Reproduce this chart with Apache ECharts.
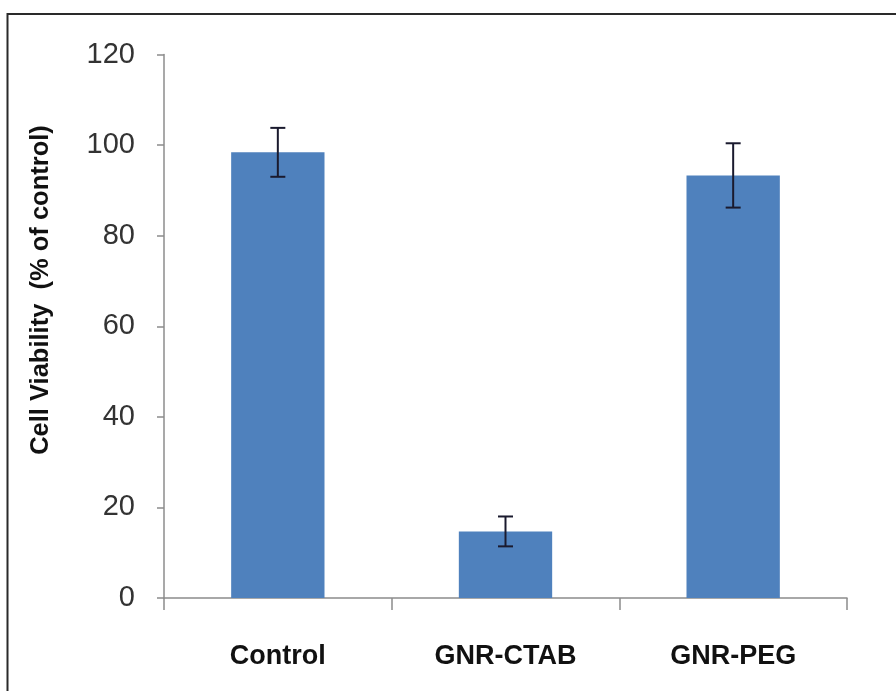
<!DOCTYPE html>
<html>
<head>
<meta charset="utf-8">
<style>html,body{margin:0;padding:0;background:#fff;}#chart{width:896px;height:691px;}</style>
<script src="https://cdn.jsdelivr.net/npm/echarts@6/dist/echarts.min.js"></script>
</head>
<body>
<div id="chart"></div>
<script>
const categories = ["Control", "GNR-CTAB", "GNR-PEG"];
const viability = [98.4, 14.7, 93.3];
const errors = [5.4, 3.3, 7.1];
const yTicks = [0, 20, 40, 60, 80, 100, 120];

const chart = echarts.init(document.getElementById('chart'));
const errData = categories.map((c, i) => [i, viability[i] - errors[i], viability[i] + errors[i]]);

chart.setOption({
  animation: false,
  backgroundColor: '#fff',
  grid: { left: 164, top: 54.5, right: 49, bottom: 93 },
  xAxis: {
    type: 'category',
    data: categories,
    axisLine: { lineStyle: { color: '#8c8c8c', width: 1.5 } },
    axisTick: { show: true, length: 12, lineStyle: { color: '#8c8c8c', width: 1.5 } },
    axisLabel: { margin: 45, color: '#111', fontSize: 27, fontWeight: 'bold', fontFamily: 'Liberation Sans, Arial, sans-serif' }
  },
  yAxis: {
    type: 'value',
    min: yTicks[0], max: yTicks[yTicks.length - 1], interval: 20,
    axisLine: { show: true, lineStyle: { color: '#8c8c8c', width: 1.5 } },
    axisTick: { show: true, length: 7, lineStyle: { color: '#8c8c8c', width: 1.5 } },
    splitLine: { show: false },
    axisLabel: { margin: 29, color: '#333', fontSize: 29, fontFamily: 'Liberation Sans, Arial, sans-serif' }
  },
  series: [
    {
      type: 'bar',
      data: viability,
      barWidth: '41%',
      itemStyle: { color: '#4f81bd' }
    },
    {
      type: 'custom',
      data: errData,
      z: 10,
      renderItem: function (params, api) {
        const x = api.value(0);
        const lo = api.coord([x, api.value(1)]);
        const hi = api.coord([x, api.value(2)]);
        const hw = 7.5;
        const st = { stroke: '#1a1a2e', lineWidth: 2 };
        return {
          type: 'group',
          children: [
            { type: 'line', shape: { x1: lo[0], y1: lo[1], x2: hi[0], y2: hi[1] }, style: st },
            { type: 'line', shape: { x1: lo[0] - hw, y1: lo[1], x2: lo[0] + hw, y2: lo[1] }, style: st },
            { type: 'line', shape: { x1: hi[0] - hw, y1: hi[1], x2: hi[0] + hw, y2: hi[1] }, style: st }
          ]
        };
      }
    }
  ],
  graphic: [
    { type: 'rect', shape: { x: 7.5, y: 14, width: 900, height: 700 }, style: { fill: 'none', stroke: '#2a2a2a', lineWidth: 2 }, silent: true },
    { type: 'text', x: 41, y: 290, rotation: Math.PI / 2,
      style: { text: 'Cell Viability  (% of control)', fill: '#111', fontSize: 25.5, fontWeight: 'bold',
               fontFamily: 'Liberation Sans, Arial, sans-serif', align: 'center', verticalAlign: 'middle' } }
  ]
});
</script>
</body>
</html>
